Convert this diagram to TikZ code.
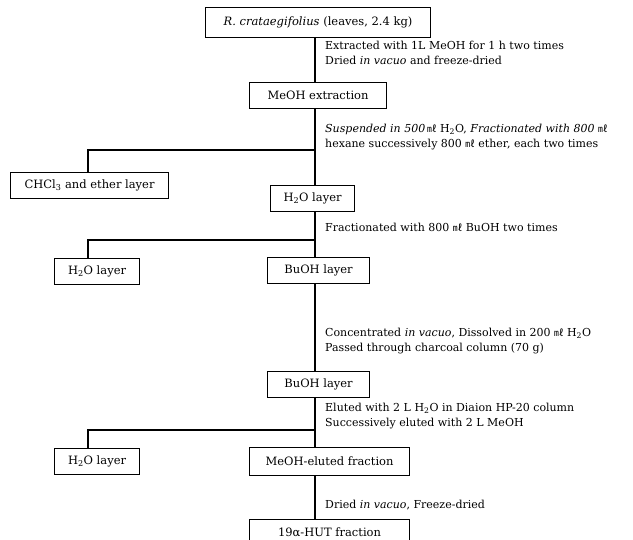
\documentclass[tikz,border=0pt]{standalone}
\usepackage{fontspec}
\setmainfont{DejaVu Serif}
\newfontfamily\cjk{Noto Sans CJK KR}
\usetikzlibrary{positioning,calc}
\newcommand{\mlunit}{{\cjk\fontsize{9.5}{10}\selectfont ㎖}}
\newcommand{\water}{H\textsubscript{2}O}

\tikzset{
  stagebox/.style={rectangle, draw=black, line width=1.1pt, inner sep=2pt, minimum height=26pt, anchor=north west, font=\fontsize{11.5}{13}\selectfont},
  steptext/.style={anchor=north west, align=left, inner sep=0pt, font=\fontsize{11}{15}\selectfont},
  flow/.style={line width=1.1pt}
}

\begin{document}
\begin{tikzpicture}[x=1pt, y=-1pt]
    \useasboundingbox (0,0) rectangle (633,540);
    \coordinate (spine) at (315,0);
    \coordinate (branchx) at (88,0);

    % Stages on the main line
    \node[stagebox, minimum width=225pt, minimum height=30pt] (leaves) at (205,7) {\textit{R. crataegifolius} (leaves, 2.4 kg)};
    \node[stagebox, minimum width=137pt] (meoh) at (249,82) {MeOH extraction};
    \node[stagebox, minimum width=84pt] (water1) at (270,185) {\water{} layer};
    \node[stagebox, minimum width=102pt] (buoh1) at (267,257) {BuOH layer};
    \node[stagebox, minimum width=102pt] (buoh2) at (267,371) {BuOH layer};
    \node[stagebox, minimum width=160pt, minimum height=28pt] (eluted) at (249,447) {MeOH-eluted fraction};
    \node[stagebox, minimum width=160pt] (hut) at (249,519) {19α-HUT fraction};

    % Side layers
    \node[stagebox, minimum width=158pt] (chcl) at (10,172) {CHCl\textsubscript{3} and ether layer};
    \node[stagebox, minimum width=85pt] (water2) at (54,258) {\water{} layer};
    \node[stagebox, minimum width=85pt] (water3) at (54,448) {\water{} layer};

    % Steps
    \node[steptext] (step1) at (325,41) {Extracted with 1L MeOH for 1 h two times\\Dried \textit{in vacuo} and freeze-dried};
    \node[steptext] (step2) at (325,124) {\textit{Suspended in 500}\,\mlunit{} \water, \textit{Fractionated with 800} \mlunit\\hexane successively 800 \mlunit{} ether, each two times};
    \node[steptext] (step3) at (325,223) {Fractionated with 800 \mlunit{} BuOH two times};
    \node[steptext] (step4) at (325,328) {Concentrated \textit{in vacuo}, Dissolved in 200 \mlunit{} \water\\Passed through charcoal column (70 g)};
    \node[steptext] (step5) at (325,403) {Eluted with 2 L \water{} in Diaion HP-20 column\\Successively eluted with 2 L MeOH};
    \node[steptext] (step6) at (325,500) {Dried \textit{in vacuo}, Freeze-dried};

    % Main line
    \draw[flow] (leaves.south -| spine) -- (meoh.north -| spine);
    \draw[flow] (meoh.south -| spine) -- (water1.north -| spine);
    \draw[flow] (water1.south -| spine) -- (buoh1.north -| spine);
    \draw[flow] (buoh1.south -| spine) -- (buoh2.north -| spine);
    \draw[flow] (buoh2.south -| spine) -- (eluted.north -| spine);
    \draw[flow] (eluted.south -| spine) -- (hut.north -| spine);

    % Branches
    \coordinate (split1) at (315,150);
    \coordinate (split2) at (315,240);
    \coordinate (split3) at (315,430);
    \draw[flow] (split1) -| (chcl.north -| branchx);
    \draw[flow] (split2) -| (water2.north -| branchx);
    \draw[flow] (split3) -| (water3.north -| branchx);
\end{tikzpicture}
\end{document}
